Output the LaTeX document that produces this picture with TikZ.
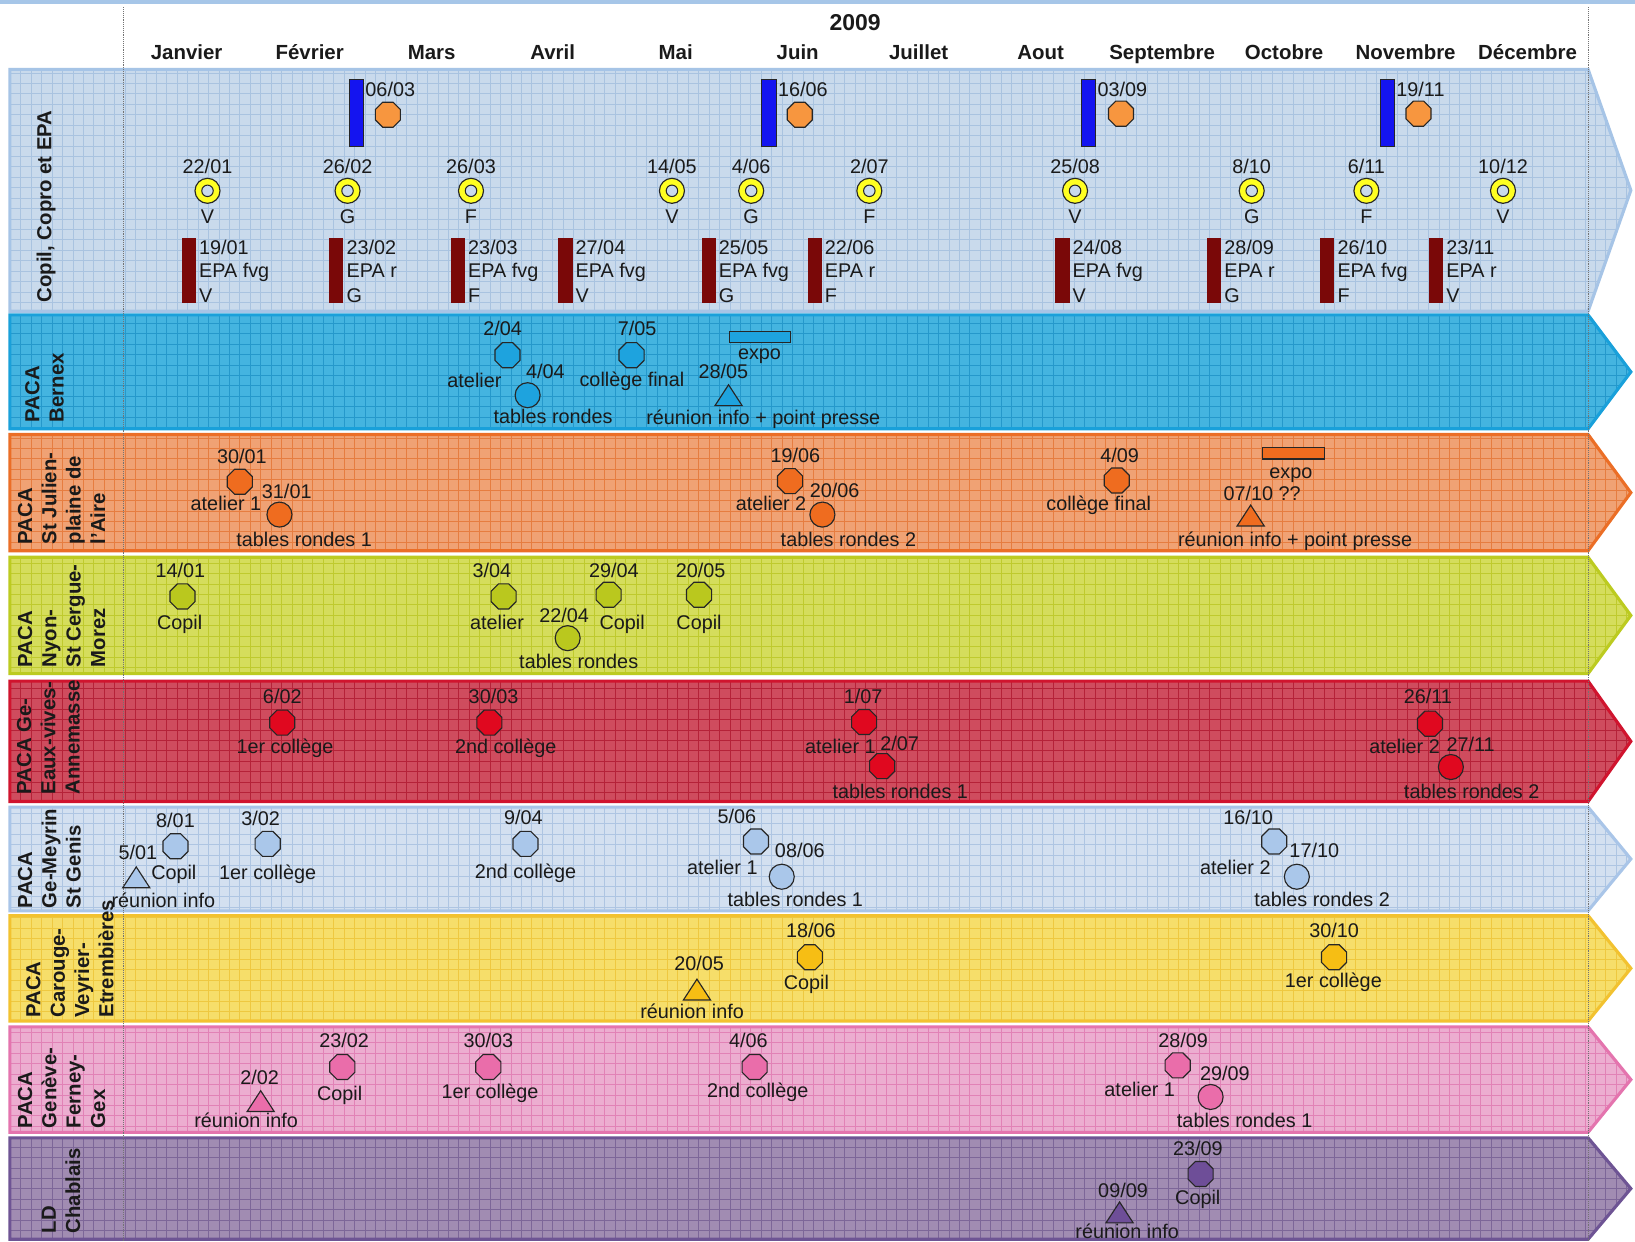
\documentclass[tikz,border=0pt]{standalone}
\usepackage{fontspec}
\setmainfont{Liberation Sans}
\usetikzlibrary{shapes.geometric}
\definecolor{txt}{HTML}{1A1A1A}
\definecolor{mkline}{HTML}{262626}
\definecolor{topstrip}{HTML}{A6C6E8}
\definecolor{r1f}{HTML}{C9DAEC}\definecolor{r1g}{HTML}{A9C3E0}\definecolor{r1b}{HTML}{A6C4E6}
\definecolor{r2f}{HTML}{44B4E0}\definecolor{r2g}{HTML}{2598CB}\definecolor{r2b}{HTML}{19A0DA}
\definecolor{r3f}{HTML}{F0A274}\definecolor{r3g}{HTML}{E67D40}\definecolor{r3b}{HTML}{EB6E26}
\definecolor{r4f}{HTML}{D5DD5C}\definecolor{r4g}{HTML}{BFCA2E}\definecolor{r4b}{HTML}{BCCB20}
\definecolor{r5f}{HTML}{CF4C5E}\definecolor{r5g}{HTML}{B52238}\definecolor{r5b}{HTML}{D0142E}
\definecolor{r6f}{HTML}{D3E0F0}\definecolor{r6g}{HTML}{AEC5E2}\definecolor{r6b}{HTML}{A9C5E8}
\definecolor{r7f}{HTML}{F6DE6A}\definecolor{r7g}{HTML}{EEC840}\definecolor{r7b}{HTML}{F2C230}
\definecolor{r8f}{HTML}{ECADD0}\definecolor{r8g}{HTML}{E182B6}\definecolor{r8b}{HTML}{E474AE}
\definecolor{r9f}{HTML}{A18CB2}\definecolor{r9g}{HTML}{7D6698}\definecolor{r9b}{HTML}{6E5494}
\definecolor{coOr}{HTML}{F7963F}\definecolor{barBlue}{HTML}{1414F0}
\definecolor{ringY}{HTML}{FFFF22}\definecolor{epaRed}{HTML}{7A0808}
\definecolor{m2}{HTML}{1EA3DE}\definecolor{m3}{HTML}{EF6C1F}\definecolor{m4}{HTML}{BAC81E}
\definecolor{m5}{HTML}{E0081F}\definecolor{m6}{HTML}{AAC7EA}\definecolor{m7}{HTML}{F6BE14}
\definecolor{m8}{HTML}{EA6DAA}\definecolor{m9}{HTML}{6E4E98}
\newcommand{\evfont}{\fontsize{19}{23}\selectfont}
\newcommand{\mofont}{\fontsize{19.6}{23}\selectfont\bfseries}
\newcommand{\rlfont}{\fontsize{19.5}{23.3}\selectfont\bfseries}
\newcommand{\tlRow}[5]{%
  \path[fill=#3] (9.5,{#1+1.5}) -- (1523,{#1+1.5}) -- (1564,{(#1+#2)/2}) -- (1523,{#2-1.5}) -- (9.5,{#2-1.5}) -- cycle;
  \begin{scope}
    \clip (9.5,{#1+1.5}) -- (1523,{#1+1.5}) -- (1564,{(#1+#2)/2}) -- (1523,{#2-1.5}) -- (9.5,{#2-1.5}) -- cycle;
    \draw[#4, line width=0.7pt, step=10pt] (0,#2) grid (1570,#1);
  \end{scope}
  \draw[#5, line width=3pt, line join=miter] (9.5,{#1+1.5}) -- (1523,{#1+1.5}) -- (1564,{(#1+#2)/2}) -- (1523,{#2-1.5}) -- (9.5,{#2-1.5}) -- cycle;}
\newcommand{\tlOct}[4]{\node[oct, fill=#2] (#1) at (#3,#4) {};}
\newcommand{\tlRnd}[4]{\node[rnd, fill=#2] (#1) at (#3,#4) {};}
\newcommand{\tlTri}[4]{\coordinate (#1) at (#3,#4);
  \filldraw[mk, fill=#2] ([shift={(-13,10)}]#1) -- ([shift={(0,-10)}]#1) -- ([shift={(13,10)}]#1) -- cycle;}
\newcommand{\tlTxt}[4]{\node[lbl] (#1) at (#2,#3) {#4};}
\newcommand{\tlCopro}[5]{%
  \node[bbar] (#1) at (#2,76) {};
  \node[lbl, anchor=west] (#1d) at ({#2+16},86) {#3};
  \node[oct, fill=coOr] (#1o) at (#4,#5) {};}
\newcommand{\tlRingEv}[4]{%
  \node[rnd, fill=ringY] (#1) at (#2,183) {};
  \draw[mkline, line width=1pt, fill=r1f] (#1.center) circle[radius=5.5pt];
  \node[lbl] (#1d) at (#2,160) {#3};
  \node[lbl] (#1l) at (#2,208) {#4};}
\newcommand{\tlEpa}[5]{%
  \node[rbar] (#1) at (#2,228) {};
  \node[blbl] (#1a) at ({#2+16.5},243.6) {#3};
  \node[blbl] (#1b) at ({#2+16.5},266.5) {#4};
  \node[blbl] (#1c) at ({#2+16.5},290) {#5};}
\begin{document}
\begin{tikzpicture}[x=1pt,y=-1pt,
  oct/.style={regular polygon, regular polygon sides=8, minimum size=26pt, inner sep=0pt, draw=mkline, line width=1.1pt},
  rnd/.style={circle, minimum size=24pt, inner sep=0pt, draw=mkline, line width=1.1pt},
  mk/.style={draw=mkline, line width=1.1pt, line join=miter},
  lbl/.style={font=\evfont, text=txt, text height=13pt, text depth=0pt, inner sep=0pt},
  blbl/.style={font=\evfont, text=txt, inner sep=0pt, anchor=base west},
  rowlbl/.style={font=\rlfont, text=txt, rotate=90, align=left, inner sep=0pt, anchor=north west},
  month/.style={font=\mofont, text=txt, text height=14pt, text depth=0pt, inner sep=0pt},
  bbar/.style={draw=mkline, line width=0.6pt, fill=barBlue, minimum width=14pt, minimum height=64pt, inner sep=0pt, anchor=north west},
  rbar/.style={draw=none, fill=epaRed, minimum width=13.5pt, minimum height=62pt, inner sep=0pt, anchor=north west},
  xbar/.style={draw=mkline, line width=1pt, minimum width=59pt, minimum height=11pt, inner sep=0pt, anchor=north west},
  vdash/.style={densely dotted, line width=0.8pt, draw=black!55}]
\useasboundingbox (0,0) rectangle (1568,1191);
\fill[white] (0,0) rectangle (1568,1191);
\fill[topstrip] (0,0) rectangle (1568,4);
% rows
\tlRow{65}{300}{r1f}{r1g}{r1b}
\tlRow{300.5}{412.7}{r2f}{r2g}{r2b}
\tlRow{415.2}{529.7}{r3f}{r3g}{r3b}
\tlRow{532.9}{647.5}{r4f}{r4g}{r4b}
\tlRow{651.7}{770.2}{r5f}{r5g}{r5b}
\tlRow{772.5}{875}{r6f}{r6g}{r6b}
\tlRow{876.6}{980.7}{r7f}{r7g}{r7b}
\tlRow{983.3}{1087.4}{r8f}{r8g}{r8b}
\tlRow{1089.7}{1190}{r9f}{r9g}{r9b}
\draw[vdash] (118,7) -- (118,1191);
\draw[vdash] (1523,7) -- (1523,1191);
% header
\node[font=\fontsize{22}{26}\selectfont\bfseries, text=txt, text height=16pt, text depth=0pt, inner sep=0pt] (yr) at (820,21.5) {2009};
\node[month] (mo1) at (179,50) {Janvier};
\node[month] (mo2) at (297,50) {Février};
\node[month] (mo3) at (414,50) {Mars};
\node[month] (mo4) at (530,50) {Avril};
\node[month] (mo5) at (648,50) {Mai};
\node[month] (mo6) at (765,50) {Juin};
\node[month] (mo7) at (881,50) {Juillet};
\node[month] (mo8) at (998,50) {Aout};
\node[month] (mo9) at (1114.5,50) {Septembre};
\node[month] (mo10) at (1231.5,50) {Octobre};
\node[month] (mo11) at (1348,50) {Novembre};
\node[month] (mo12) at (1465,50) {Décembre};
% row labels
\node[rowlbl] (l1) at (35,290) {Copil, Copro et EPA};
\node[rowlbl] (l2) at (24,405) {PACA\\Bernex};
\node[rowlbl] (l3) at (17,522) {PACA\\St Julien-\\plaine de\\l'Aire};
\node[rowlbl] (l4) at (17,640) {PACA\\Nyon-\\St Cergue-\\Morez};
\node[rowlbl] (l5) at (16,762) {PACA Ge-\\Eaux-vives-\\Annemasse};
\node[rowlbl] (l6) at (17,871) {PACA\\Ge-Meyrin\\St Genis};
\node[rowlbl] (l7) at (25,976) {PACA\\Carouge-\\Veyrier-\\Etrembières};
\node[rowlbl] (l8) at (17,1082) {PACA\\Genève-\\Ferney-\\Gex};
\node[rowlbl] (l9) at (40,1183) {LD\\Chablais};
% row 1
\tlCopro{cp1}{334.3}{06/03}{372}{110}
\tlCopro{cp2}{730}{16/06}{767}{110}
\tlCopro{cp3}{1036.4}{03/09}{1075}{109}
\tlCopro{cp4}{1323}{19/11}{1360.4}{109}
\tlRingEv{v1}{199}{22/01}{V}
\tlRingEv{v2}{333.3}{26/02}{G}
\tlRingEv{v3}{451.7}{26/03}{F}
\tlRingEv{v4}{644.4}{14/05}{V}
\tlRingEv{v5}{720.4}{4/06}{G}
\tlRingEv{v6}{833.7}{2/07}{F}
\tlRingEv{v7}{1031}{25/08}{V}
\tlRingEv{v8}{1200.4}{8/10}{G}
\tlRingEv{v9}{1310.4}{6/11}{F}
\tlRingEv{v10}{1441.4}{10/12}{V}
\tlEpa{e1}{174.3}{19/01}{EPA fvg}{V}
\tlEpa{e2}{315.7}{23/02}{EPA r}{G}
\tlEpa{e3}{432.3}{23/03}{EPA fvg}{F}
\tlEpa{e4}{535.4}{27/04}{EPA fvg}{V}
\tlEpa{e5}{672.7}{25/05}{EPA fvg}{G}
\tlEpa{e6}{774.4}{22/06}{EPA r}{F}
\tlEpa{e7}{1012}{24/08}{EPA fvg}{V}
\tlEpa{e8}{1157.5}{28/09}{EPA r}{G}
\tlEpa{e9}{1266}{26/10}{EPA fvg}{F}
\tlEpa{e10}{1370.4}{23/11}{EPA r}{V}
% row 2
\tlOct{a1}{m2}{486.7}{340.6} \tlTxt{a1d}{482}{315.5}{2/04} \tlTxt{a1l}{455}{365}{atelier}
\tlRnd{a2}{m2}{506}{379} \tlTxt{a2d}{523}{356.6}{4/04} \tlTxt{a2l}{530.5}{400}{tables rondes}
\tlOct{a3}{m2}{605.7}{340.6} \tlTxt{a3d}{611}{315}{7/05} \tlTxt{a3l}{606}{364.6}{collège final}
\tlTri{a4}{m2}{698.7}{379} \tlTxt{a4d}{693.7}{356.6}{28/05} \tlTxt{a4l}{732}{400.5}{réunion info + point presse}
\node[xbar, fill=m2] (a5) at (698.7,317) {}; \tlTxt{a5l}{728.4}{338}{expo}
% row 3
\tlOct{b1}{m3}{230}{462} \tlTxt{b1d}{232}{438}{30/01} \tlTxt{b1l}{216.7}{483}{atelier 1}
\tlRnd{b2}{m3}{268}{493.5} \tlTxt{b2d}{275}{472}{31/01} \tlTxt{b2l}{291.7}{517.8}{tables rondes 1}
\tlOct{b3}{m3}{757.7}{461.4} \tlTxt{b3d}{762.7}{436.7}{19/06} \tlTxt{b3l}{739.4}{483}{atelier 2}
\tlRnd{b4}{m3}{788.7}{493.5} \tlTxt{b4d}{800.4}{471}{20/06} \tlTxt{b4l}{813.7}{517.8}{tables rondes 2}
\tlOct{b5}{m3}{1071}{460.8} \tlTxt{b5d}{1073.7}{437.4}{4/09} \tlTxt{b5l}{1053.7}{483}{collège final}
\node[xbar, fill=m3] (b6) at (1210.4,428.7) {}; \tlTxt{b6l}{1238}{452.7}{expo}
\tlTri{b7}{m3}{1199.4}{494.4} \tlTxt{b7d}{1210.4}{473.6}{07/10 ??} \tlTxt{b7l}{1242}{517.8}{réunion info + point presse}
% row 4
\tlOct{d1}{m4}{175}{572} \tlTxt{d1d}{173}{547.3}{14/01} \tlTxt{d1l}{172.3}{597}{Copil}
\tlOct{d2}{m4}{483}{572} \tlTxt{d2d}{471.7}{547.3}{3/04} \tlTxt{d2l}{476.7}{597}{atelier}
\tlRnd{d3}{m4}{544.4}{612} \tlTxt{d3d}{541}{590.6}{22/04} \tlTxt{d3l}{555}{634.7}{tables rondes}
\tlOct{d4}{m4}{583.7}{570.4} \tlTxt{d4d}{588.7}{547.3}{29/04} \tlTxt{d4l}{596.7}{597}{Copil}
\tlOct{d5}{m4}{670.4}{570.4} \tlTxt{d5d}{672}{547.3}{20/05} \tlTxt{d5l}{670.4}{597}{Copil}
% row 5
\tlOct{f1}{m5}{270.7}{693} \tlTxt{f1d}{270.7}{667.7}{6/02} \tlTxt{f1l}{273.3}{716.4}{1er collège}
\tlOct{f2}{m5}{469.3}{693} \tlTxt{f2d}{473.3}{667.7}{30/03} \tlTxt{f2l}{485}{716.4}{2nd collège}
\tlOct{f3}{m5}{828.7}{692.4} \tlTxt{f3d}{827.7}{667.7}{1/07} \tlTxt{f3l}{806}{716.4}{atelier 1}
\tlOct{f4}{m5}{846}{734.7} \tlTxt{f4d}{862.7}{713.2}{2/07} \tlTxt{f4l}{863.4}{759.7}{tables rondes 1}
\tlOct{f5}{m5}{1371.4}{694} \tlTxt{f5d}{1369.4}{667.7}{26/11} \tlTxt{f5l}{1347}{716.4}{atelier 2}
\tlRnd{f6}{m5}{1391.4}{735.6} \tlTxt{f6d}{1410.4}{713.8}{27/11} \tlTxt{f6l}{1411.4}{759.7}{tables rondes 2}
% row 6
\tlTri{h1}{m6}{130.7}{841.4} \tlTxt{h1d}{132.3}{817.4}{5/01} \tlTxt{h1l}{156.7}{863.8}{réunion info}
\tlOct{h2}{m6}{168.3}{811.6} \tlTxt{h2d}{168.3}{786.9}{8/01} \tlTxt{h2l}{166.7}{836.6}{Copil}
\tlOct{h3}{m6}{256.7}{809.3} \tlTxt{h3d}{250}{785.3}{3/02} \tlTxt{h3l}{256.7}{836.6}{1er collège}
\tlOct{h4}{m6}{504}{809.3} \tlTxt{h4d}{502}{784.4}{9/04} \tlTxt{h4l}{504}{836}{2nd collège}
\tlOct{h5}{m6}{725}{807} \tlTxt{h5d}{706.7}{783.7}{5/06} \tlTxt{h5l}{692.7}{831.8}{atelier 1}
\tlRnd{h6}{m6}{749.7}{840.8} \tlTxt{h6d}{767}{815.7}{08/06} \tlTxt{h6l}{762.7}{863.2}{tables rondes 1}
\tlOct{h7}{m6}{1222}{807} \tlTxt{h7d}{1197}{784.4}{16/10} \tlTxt{h7l}{1184.7}{831.8}{atelier 2}
\tlRnd{h8}{m6}{1243.7}{840.8} \tlTxt{h8d}{1260.4}{815.7}{17/10} \tlTxt{h8l}{1268}{863.2}{tables rondes 2}
% row 7
\tlTri{k1}{m7}{668.4}{949} \tlTxt{k1d}{670.4}{924}{20/05} \tlTxt{k1l}{663.7}{969.8}{réunion info}
\tlOct{k2}{m7}{776.7}{918} \tlTxt{k2d}{777.7}{892.7}{18/06} \tlTxt{k2l}{773.4}{942.2}{Copil}
\tlOct{k3}{m7}{1279.4}{918} \tlTxt{k3d}{1279.4}{893}{30/10} \tlTxt{k3l}{1278.7}{940.5}{1er collège}
% row 8
\tlTri{p1}{m8}{250}{1056} \tlTxt{p1d}{249}{1033.9}{2/02} \tlTxt{p1l}{236}{1074.6}{réunion info}
\tlOct{p2}{m8}{328.3}{1023.3} \tlTxt{p2d}{330}{997.7}{23/02} \tlTxt{p2l}{325.7}{1049}{Copil}
\tlOct{p3}{m8}{468.3}{1023.3} \tlTxt{p3d}{468.3}{997.7}{30/03} \tlTxt{p3l}{470}{1047.4}{1er collège}
\tlOct{p4}{m8}{723.7}{1023.3} \tlTxt{p4d}{717.7}{997.7}{4/06} \tlTxt{p4l}{726.7}{1045.8}{2nd collège}
\tlOct{p5}{m8}{1129.4}{1021.7} \tlTxt{p5d}{1134.7}{997.7}{28/09} \tlTxt{p5l}{1093}{1044.8}{atelier 1}
\tlRnd{p6}{m8}{1161}{1052} \tlTxt{p6d}{1174.7}{1029.7}{29/09} \tlTxt{p6l}{1193.7}{1074.6}{tables rondes 1}
% row 9
\tlTri{q1}{m9}{1073.7}{1162.7} \tlTxt{q1d}{1077}{1141.9}{09/09} \tlTxt{q1l}{1081}{1181}{réunion info}
\tlOct{q2}{m9}{1151.4}{1125.9} \tlTxt{q2d}{1148.7}{1101.2}{23/09} \tlTxt{q2l}{1148.7}{1148.3}{Copil}
\end{tikzpicture}
\end{document}
